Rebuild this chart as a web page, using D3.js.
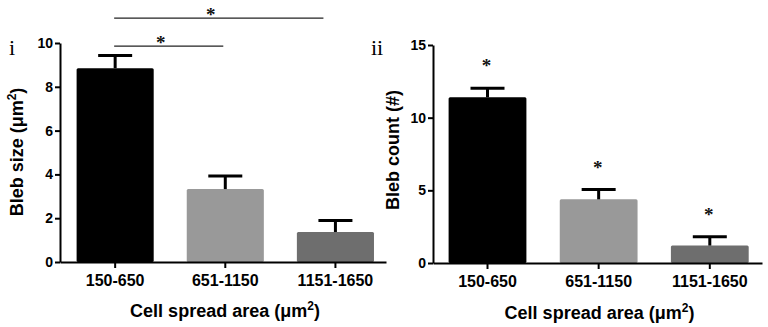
<!DOCTYPE html>
<html>
<head>
<meta charset="utf-8">
<script src="https://cdn.jsdelivr.net/npm/d3@7"></script>
<style>
body { margin: 0; background: #fff; }
svg { display: block; font-family: Arial, "Liberation Sans", sans-serif; }
.tick text { font-weight: bold; fill: #000; }
.axis-label { font-size: 18px; font-weight: bold; fill: #000; }
.panel-label { font-family: "Liberation Serif", "Times New Roman", serif; font-size: 22px; fill: #000; }
.star { font-family: "Liberation Serif", "Times New Roman", serif; font-size: 19px; font-weight: bold; fill: #111; }
</style>
</head>
<body>
<svg width="768" height="327"></svg>
<script>
const categories = ['150-650', '651-1150', '1151-1650'];
const barColors = ['#000000', '#999999', '#6e6e6e'];

const blebSize = [8.85, 3.33, 1.37];
const blebSizeErr = [0.58, 0.60, 0.53];
const blebSizeTicks = [0, 2, 4, 6, 8, 10];
// significance brackets on panel i: bar index pairs and bracket height (data units)
const sizeBrackets = [
    { from: 0, to: 1, level: 9.86 },
    { from: 0, to: 2, level: 11.14 }
];

const blebCount = [11.4, 4.38, 1.2];
const blebCountErr = [0.62, 0.67, 0.60];
const blebCountTicks = [0, 5, 10, 15];

const svg = d3.select('svg');
svg.append('rect').attr('width', 768).attr('height', 327).attr('fill', '#fff');

function drawPanel(p) {
    const x = d3.scaleBand()
        .domain(categories)
        .range([p.x0, p.x1])
        .paddingInner(0.3)
        .paddingOuter(0.13)
        .align(p.align);

    const y = d3.scaleLinear()
        .domain([0, p.yMax])
        .range([p.y0, p.y1]);

    const g = svg.append('g');

    g.selectAll('rect.bar').data(p.values)
        .enter().append('rect')
        .attr('class', 'bar')
        .attr('x', (d, i) => x(categories[i]))
        .attr('y', d => y(d))
        .attr('width', x.bandwidth())
        .attr('height', d => y(0) - y(d))
        .attr('rx', 1.5)
        .attr('fill', (d, i) => barColors[i]);

    // upper error bars
    const eb = g.selectAll('g.err').data(p.values)
        .enter().append('g')
        .attr('class', 'err')
        .attr('transform', (d, i) => `translate(${x(categories[i]) + x.bandwidth() / 2},0)`);
    eb.append('line')
        .attr('y1', d => y(d))
        .attr('y2', (d, i) => y(d + p.errs[i]))
        .attr('stroke', '#000')
        .attr('stroke-width', 3);
    eb.append('line')
        .attr('x1', -17).attr('x2', 17)
        .attr('y1', (d, i) => y(d + p.errs[i]))
        .attr('y2', (d, i) => y(d + p.errs[i]))
        .attr('stroke', '#000')
        .attr('stroke-width', 3);

    const yAxis = d3.axisLeft(y)
        .tickValues(p.ticks)
        .tickSize(5)
        .tickSizeOuter(0)
        .tickPadding(2);
    const yAxisG = g.append('g')
        .attr('transform', `translate(${p.x0},0)`)
        .call(yAxis);
    yAxisG.selectAll('.tick text').style('font-size', '14px');

    const xAxis = d3.axisBottom(x)
        .tickSize(6)
        .tickSizeOuter(0)
        .tickPadding(7);
    const xAxisG = g.append('g')
        .attr('transform', `translate(0,${p.y0})`)
        .call(xAxis);
    xAxisG.selectAll('.tick text').style('font-size', '16px');

    g.selectAll('.domain, .tick line')
        .attr('stroke', '#000')
        .attr('stroke-width', 2);

    const xl = g.append('text')
        .attr('class', 'axis-label')
        .attr('x', (p.x0 + p.x1) / 2 + 2)
        .attr('y', p.xTitleY)
        .attr('text-anchor', 'middle');
    xl.append('tspan').text('Cell spread area (\u03bcm');
    xl.append('tspan').attr('dy', -7).style('font-size', '12px').text('2');
    xl.append('tspan').attr('dy', 7).text(')');

    const yl = g.append('text')
        .attr('class', 'axis-label')
        .attr('transform', `translate(${p.yTitleX},${p.yTitleY}) rotate(-90)`)
        .attr('text-anchor', 'middle');
    yl.append('tspan').text(p.yTitle);
    if (p.yTitleSup) {
        yl.append('tspan').attr('dy', -7).style('font-size', '12px').text('2');
        yl.append('tspan').attr('dy', 7).text(')');
    }

    g.append('text')
        .attr('class', 'panel-label')
        .attr('x', p.labelX)
        .attr('y', 55)
        .text(p.label);

    return { x, y, g };
}

const left = drawPanel({
    x0: 60, x1: 386, align: 0.58,
    y0: 262, y1: 43, yMax: 10,
    values: blebSize, errs: blebSizeErr, ticks: blebSizeTicks,
    yTitle: 'Bleb size (\u03bcm', yTitleSup: true,
    yTitleX: 23, yTitleY: 152, xTitleY: 317,
    label: 'i', labelX: 9
});

const right = drawPanel({
    x0: 433, x1: 762, align: 0.54,
    y0: 263, y1: 45, yMax: 15,
    values: blebCount, errs: blebCountErr, ticks: blebCountTicks,
    yTitle: 'Bleb count (#)', yTitleSup: false,
    yTitleX: 399, yTitleY: 150, xTitleY: 319,
    label: 'ii', labelX: 371
});

// brackets on panel i
const lx = left.x;
const cx = i => lx(categories[i]) + lx.bandwidth() / 2;
sizeBrackets.forEach(b => {
    const x1 = cx(b.from) - 1;
    const x2 = b.to === 2 ? cx(b.to) - 12 : cx(b.to) - 2;
    const yy = left.y(b.level);
    left.g.append('line')
        .attr('x1', x1).attr('x2', x2)
        .attr('y1', yy).attr('y2', yy)
        .attr('stroke', '#222')
        .attr('stroke-width', 1.2);
    left.g.append('text')
        .attr('class', 'star')
        .attr('x', (x1 + x2) / 2 - 8)
        .attr('y', yy + 3)
        .attr('text-anchor', 'middle')
        .text('*');
});

// stars above each bar on panel ii
const rx = right.x;
right.g.selectAll('text.bar-star').data(blebCount)
    .enter().append('text')
    .attr('class', 'star bar-star')
    .attr('x', (d, i) => rx(categories[i]) + rx.bandwidth() / 2 - 1)
    .attr('y', (d, i) => right.y(d + blebCountErr[i]) - 16)
    .attr('text-anchor', 'middle')
    .text('*');
</script>
</body>
</html>
